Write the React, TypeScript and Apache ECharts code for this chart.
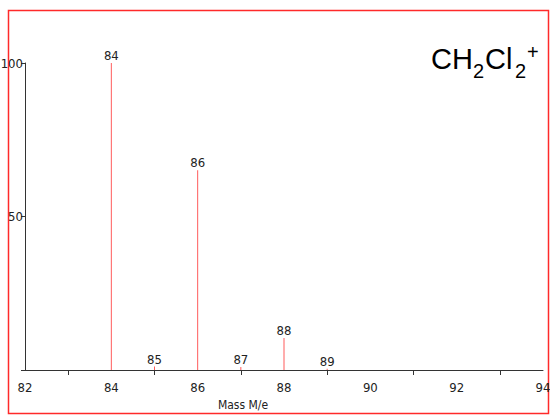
import React, { useEffect, useRef } from "react";
import * as echarts from "echarts";

const masses = [84, 85, 86, 87, 88, 89];
const intensities = [100, 1.1, 65.1, 1.0, 10.4, 0.4];
const xMin = 82;
const xMax = 94;
const yTicks = [0, 50, 100];
const axisTitle = "Mass M/e";

const narrow = '"Liberation Sans Narrow", "DejaVu Sans Condensed", "Liberation Sans", sans-serif';
const sans = '"Liberation Sans", Arial, sans-serif';

export default function App() {
  const ref = useRef<HTMLDivElement>(null);
  useEffect(() => {
    if (!ref.current) return;
    const chart = echarts.init(ref.current, undefined, { renderer: "svg" });
    const data = masses.map((m, i) => [m, intensities[i]]);
    chart.setOption({
      animation: false,
      backgroundColor: "#ffffff",
      grid: { left: 25, right: 7, top: 63, bottom: 45, containLabel: false, outerBoundsMode: "none" },
      xAxis: {
        type: "value",
        min: xMin,
        max: xMax,
        interval: 2,
        axisLine: { show: true, onZero: false, lineStyle: { color: "#333", width: 1 } },
        axisTick: { show: false },
        minorTick: { show: true, splitNumber: 2, length: 5, lineStyle: { color: "#333", width: 1 } },
        splitLine: { show: false },
        minorSplitLine: { show: false },
        axisLabel: {
          margin: 11,
          color: "#222",
          fontFamily: narrow,
          fontSize: 13,
          showMinLabel: true,
          showMaxLabel: true,
        },
      },
      yAxis: {
        type: "value",
        min: yTicks[0],
        max: yTicks[yTicks.length - 1],
        interval: 50,
        axisLine: { show: true, lineStyle: { color: "#333", width: 1 } },
        axisTick: { show: true, length: 4, lineStyle: { color: "#333" } },
        splitLine: { show: false },
        axisLabel: {
          margin: 2,
          color: "#222",
          fontFamily: narrow,
          fontSize: 13,
          formatter: (v: number) => (v === 0 ? "" : String(v)),
        },
      },
      series: [
        {
          type: "bar",
          data,
          barWidth: 1,
          itemStyle: { color: "#ff5c5c" },
          label: {
            show: true,
            position: "top",
            distance: 1,
            color: "#222",
            fontFamily: narrow,
            fontSize: 13,
            formatter: (p: any) => String(p.value[0]),
          },
        },
      ],
      graphic: [
        {
          type: "rect",
          shape: { x: 8.5, y: 10.5, width: 540, height: 403 },
          style: { fill: "none", stroke: "#ff2a2a", lineWidth: 1.5 },
          silent: true,
        },
        {
          type: "text",
          x: 243,
          y: 405,
          style: { text: axisTitle, font: `12px ${narrow}`, fill: "#222", align: "center", verticalAlign: "middle" },
        },
        {
          type: "text",
          x: 431,
          y: 59,
          style: { text: "CH", font: `29px ${sans}`, fill: "#000", align: "left", verticalAlign: "middle" },
        },
        {
          type: "text",
          x: 473,
          y: 70.5,
          style: { text: "2", font: `20px ${sans}`, fill: "#000", align: "left", verticalAlign: "middle" },
        },
        {
          type: "text",
          x: 485,
          y: 59,
          style: { text: "Cl", font: `29px ${sans}`, fill: "#000", align: "left", verticalAlign: "middle" },
        },
        {
          type: "text",
          x: 515,
          y: 70.5,
          style: { text: "2", font: `20px ${sans}`, fill: "#000", align: "left", verticalAlign: "middle" },
        },
        {
          type: "text",
          x: 527,
          y: 52,
          style: { text: "+", font: `20px ${sans}`, fill: "#000", align: "left", verticalAlign: "middle" },
        },
      ],
    });
    return () => chart.dispose();
  }, []);
  return (
    <div
      ref={ref}
      style={{ position: "fixed", left: 0, top: 0, width: 550, height: 415 }}
    />
  );
}
